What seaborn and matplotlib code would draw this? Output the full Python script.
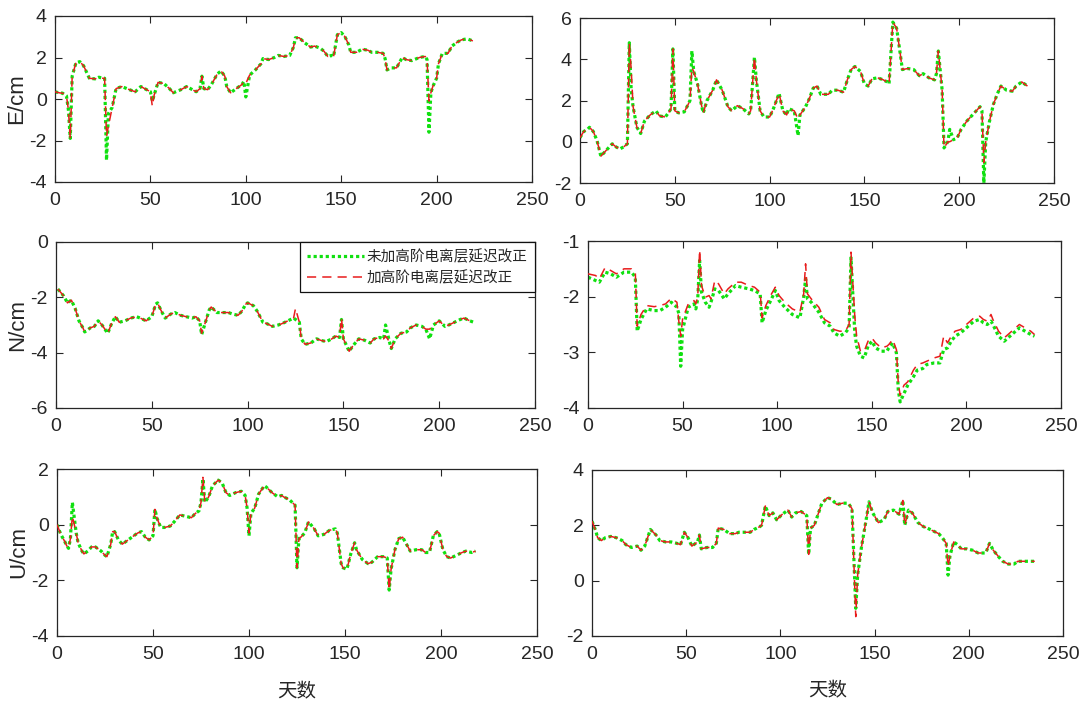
import matplotlib
matplotlib.use("Agg")
import matplotlib.pyplot as plt
import pandas as pd
import seaborn as sns

# ---------------- data ----------------
SERIES_NAMES = ["未加高阶电离层延迟改正", "加高阶电离层延迟改正"]
X_LABEL = "天数"
XTICKS = [0, 50, 100, 150, 200, 250]

# E, left column
e_left_days = [0, 2, 4, 6, 7, 8, 9, 11, 13, 15,
               18, 21, 23, 25, 26, 27, 28, 30, 32, 35,
               39, 42, 45, 48, 50, 51, 52, 54, 57, 60,
               62, 66, 69, 71, 74, 76, 77, 78, 80, 82,
               85, 87, 89, 90, 92, 95, 98, 99, 100, 102,
               105, 108, 109, 112, 115, 117, 120, 123, 125, 126,
               128, 131, 134, 136, 139, 141, 143, 145, 146, 148,
               150, 152, 154, 155, 158, 161, 164, 166, 169, 172,
               173, 174, 176, 179, 182, 184, 187, 191, 194, 195,
               196, 197, 198, 200, 201, 203, 206, 208, 211, 213,
               216, 219]
e_left_green = [0.35, 0.3, 0.28, 0.15, -0.5, -1.9, 1.1, 1.75, 1.8, 1.6,
                1.0, 0.97, 1.05, 1.0, 1.0, -2.95, -0.7, -0.4, 0.5, 0.6,
                0.45, 0.35, 0.6, 0.45, 0.35, -0.1, 0.2, 0.8, 0.75, 0.5,
                0.3, 0.45, 0.6, 0.5, 0.35, 0.5, 1.1, 0.5, 0.45, 0.7,
                1.2, 1.35, 1.1, 0.6, 0.3, 0.5, 0.7, 0.85, 0.1, 1.15,
                1.4, 1.7, 1.95, 1.9, 2.0, 2.1, 2.05, 2.1, 2.5, 2.95,
                2.95, 2.7, 2.5, 2.55, 2.45, 2.3, 2.05, 2.1, 2.05, 3.1,
                3.2, 3.0, 2.6, 2.25, 2.25, 2.4, 2.35, 2.25, 2.25, 2.2,
                1.95, 1.4, 1.5, 1.5, 2.0, 1.9, 1.85, 2.0, 2.05, 1.9,
                -1.6, 0.3, 0.6, 1.0, 1.7, 2.2, 2.2, 2.55, 2.75, 2.85,
                2.9, 2.8]
e_left_red = [0.35, 0.3, 0.28, 0.15, -0.5, -1.9, 1.1, 1.75, 1.8, 1.6,
              1.0, 0.97, 1.05, 1.0, 1.0, -1.8, -1.3, -0.4, 0.5, 0.6,
              0.45, 0.35, 0.6, 0.45, 0.35, -0.35, 0.2, 0.8, 0.75, 0.5,
              0.3, 0.45, 0.6, 0.5, 0.35, 0.5, 1.1, 0.5, 0.45, 0.7,
              1.2, 1.35, 1.1, 0.6, 0.3, 0.5, 0.7, 0.85, 0.75, 1.15,
              1.4, 1.7, 1.95, 1.9, 2.0, 2.1, 2.05, 2.1, 2.5, 2.95,
              2.95, 2.7, 2.5, 2.55, 2.45, 2.3, 2.05, 2.1, 2.05, 3.1,
              3.2, 3.0, 2.6, 2.25, 2.25, 2.4, 2.35, 2.25, 2.25, 2.2,
              1.95, 1.4, 1.5, 1.5, 2.0, 1.9, 1.85, 2.0, 2.05, 1.9,
              -0.1, 0.3, 0.6, 1.0, 1.7, 2.2, 2.2, 2.55, 2.75, 2.85,
              2.9, 2.8]
e_left_yticks = [-4, -2, 0, 2, 4]

# E, right column
e_right_days = [0, 2, 4, 5, 7, 9, 11, 14, 17, 19,
                21, 23, 25, 26, 27, 28, 30, 32, 34, 37,
                40, 42, 45, 47, 48, 49, 50, 52, 55, 57,
                58, 59, 60, 62, 64, 65, 67, 70, 72, 75,
                78, 80, 83, 86, 89, 90, 92, 93, 95, 97,
                100, 102, 105, 107, 109, 110, 113, 115, 116, 119,
                121, 123, 125, 127, 131, 133, 136, 139, 141, 143,
                145, 148, 150, 152, 154, 157, 160, 162, 163, 165,
                167, 169, 170, 173, 176, 179, 181, 184, 187, 188,
                189, 191, 192, 194, 195, 197, 199, 201, 204, 207,
                210, 211, 212, 213, 214, 216, 218, 220, 222, 225,
                228, 230, 233, 236]
e_right_green = [0.2, 0.5, 0.6, 0.7, 0.5, 0.05, -0.7, -0.4, -0.1, -0.25,
                 -0.35, -0.25, -0.1, 4.8, 2.5, 1.7, 0.7, 0.4, 1.0, 1.3,
                 1.5, 1.25, 1.2, 1.45, 1.6, 4.5, 1.5, 1.4, 1.45, 1.8,
                 2.0, 4.4, 3.4, 2.8, 1.8, 1.4, 2.0, 2.5, 3.0, 2.5,
                 1.7, 1.5, 1.75, 1.6, 1.35, 1.5, 4.1, 3.0, 1.5, 1.2,
                 1.2, 1.6, 2.35, 1.5, 1.3, 1.6, 1.5, 0.3, 1.3, 1.7,
                 2.1, 2.6, 2.7, 2.3, 2.3, 2.5, 2.5, 2.4, 3.0, 3.5,
                 3.65, 3.4, 2.8, 2.7, 3.05, 3.1, 3.0, 2.9, 2.8, 5.8,
                 5.5, 4.2, 3.5, 3.55, 3.5, 3.2, 3.3, 3.1, 3.0, 3.3,
                 4.4, 2.5, -0.3, 0.0, 0.6, 0.1, 0.2, 0.6, 1.0, 1.3,
                 1.6, 1.7, 1.5, -2.0, 0.0, 1.0, 1.8, 2.3, 2.7, 2.5,
                 2.45, 2.7, 2.9, 2.7]
e_right_red = [0.2, 0.5, 0.6, 0.7, 0.5, 0.05, -0.7, -0.4, -0.1, -0.25,
               -0.35, -0.25, -0.1, 4.8, 3.5, 1.7, 0.7, 0.4, 1.0, 1.3,
               1.5, 1.25, 1.2, 1.45, 1.6, 4.5, 1.5, 1.4, 1.45, 1.8,
               2.0, 3.6, 3.4, 2.8, 1.8, 1.4, 2.0, 2.5, 3.0, 2.5,
               1.7, 1.5, 1.75, 1.6, 1.35, 1.5, 4.1, 3.0, 1.5, 1.2,
               1.2, 1.6, 2.35, 1.5, 1.3, 1.6, 1.5, 1.1, 1.3, 1.7,
               2.1, 2.6, 2.7, 2.3, 2.3, 2.5, 2.5, 2.4, 3.0, 3.5,
               3.65, 3.4, 2.8, 2.7, 3.05, 3.1, 3.0, 2.9, 2.8, 5.8,
               5.5, 4.2, 3.5, 3.55, 3.5, 3.2, 3.3, 3.1, 3.0, 3.3,
               4.4, 2.5, -0.3, 0.0, 0.0, 0.1, 0.2, 0.6, 1.0, 1.3,
               1.6, 1.7, 1.5, -1.0, 0.0, 1.0, 1.8, 2.3, 2.7, 2.5,
               2.45, 2.7, 2.9, 2.7]
e_right_yticks = [-2, 0, 2, 4, 6]

# N, left column
n_left_days = [1, 4, 6, 8, 10, 12, 14, 15, 18, 20,
               22, 24, 27, 29, 31, 33, 36, 39, 42, 44,
               47, 50, 52, 53, 55, 57, 60, 62, 65, 68,
               71, 73, 75, 76, 78, 80, 81, 84, 87, 90,
               92, 95, 97, 99, 100, 103, 105, 108, 110, 113,
               116, 118, 121, 124, 125, 127, 128, 130, 133, 136,
               138, 141, 144, 146, 148, 149, 150, 153, 155, 158,
               161, 164, 166, 169, 171, 172, 174, 175, 177, 180,
               183, 185, 188, 191, 193, 195, 197, 200, 203, 205,
               208, 211, 213, 216, 218]
n_left_green = [-1.7, -1.95, -2.2, -2.1, -2.4, -2.85, -3.1, -3.25, -3.1, -3.05,
                -2.85, -3.0, -3.3, -2.95, -2.7, -2.9, -2.85, -2.75, -2.7, -2.75,
                -2.85, -2.7, -2.25, -2.2, -2.5, -2.75, -2.6, -2.55, -2.65, -2.7,
                -2.75, -2.7, -2.85, -3.35, -2.9, -2.45, -2.35, -2.55, -2.55, -2.55,
                -2.6, -2.65, -2.5, -2.25, -2.2, -2.3, -2.5, -2.9, -2.95, -3.05,
                -3.0, -2.95, -2.85, -2.75, -2.8, -2.9, -3.5, -3.7, -3.65, -3.5,
                -3.55, -3.6, -3.5, -3.4, -3.45, -2.8, -3.5, -3.95, -3.75, -3.5,
                -3.55, -3.65, -3.5, -3.45, -3.5, -3.0, -3.6, -3.85, -3.5, -3.3,
                -3.25, -3.1, -3.0, -3.05, -3.15, -3.5, -3.0, -2.85, -3.05, -3.0,
                -2.9, -2.8, -2.75, -2.85, -2.9]
n_left_red = [-1.7, -1.95, -2.2, -2.1, -2.4, -2.85, -3.1, -3.25, -3.1, -3.05,
              -2.85, -3.0, -3.3, -2.95, -2.7, -2.9, -2.85, -2.75, -2.7, -2.75,
              -2.85, -2.7, -2.25, -2.2, -2.5, -2.75, -2.6, -2.55, -2.65, -2.7,
              -2.75, -2.7, -2.85, -3.3, -2.9, -2.45, -2.35, -2.55, -2.55, -2.55,
              -2.6, -2.65, -2.5, -2.25, -2.2, -2.3, -2.5, -2.9, -2.95, -3.05,
              -3.0, -2.95, -2.85, -2.75, -2.4, -2.9, -3.5, -3.7, -3.65, -3.5,
              -3.55, -3.6, -3.5, -3.4, -3.45, -2.75, -3.5, -3.95, -3.75, -3.5,
              -3.55, -3.65, -3.5, -3.45, -3.5, -3.4, -3.6, -3.85, -3.5, -3.3,
              -3.25, -3.1, -3.0, -3.05, -3.15, -3.15, -3.0, -2.85, -3.05, -3.0,
              -2.9, -2.8, -2.75, -2.85, -2.9]
n_left_yticks = [-6, -4, -2, 0]

# N, right column
n_right_days = [0, 4, 6, 9, 12, 15, 19, 23, 25, 26,
                28, 31, 35, 38, 41, 44, 47, 48, 49, 50,
                53, 56, 57, 58, 59, 60, 62, 64, 65, 67,
                69, 72, 74, 78, 81, 85, 88, 91, 92, 94,
                97, 99, 101, 104, 108, 112, 114, 115, 116, 118,
                122, 125, 128, 130, 133, 136, 138, 139, 141, 142,
                144, 146, 148, 150, 152, 155, 158, 159, 161, 163,
                164, 165, 167, 169, 172, 174, 177, 179, 183, 186,
                188, 190, 192, 194, 197, 200, 204, 207, 209, 211,
                213, 214, 217, 220, 222, 226, 228, 231, 234, 236]
n_right_green = [-1.65, -1.71, -1.74, -1.56, -1.59, -1.65, -1.56, -1.56, -1.65, -2.62,
                 -2.41, -2.22, -2.25, -2.25, -2.19, -2.1, -2.19, -2.3, -3.25, -2.59,
                 -2.19, -2.13, -2.22, -2.04, -1.35, -1.92, -2.1, -2.19, -2.1, -1.86,
                 -1.89, -2.04, -1.95, -1.8, -1.83, -1.86, -1.89, -1.95, -2.47, -2.25,
                 -2.04, -1.89, -2.07, -2.19, -2.32, -2.38, -2.01, -1.68, -2.04, -2.1,
                 -2.28, -2.47, -2.53, -2.65, -2.71, -2.65, -2.56, -1.3, -2.65, -2.89,
                 -3.07, -3.1, -2.89, -2.8, -2.92, -2.98, -2.98, -2.92, -2.83, -3.01,
                 -3.68, -3.89, -3.74, -3.59, -3.44, -3.32, -3.29, -3.22, -3.19, -3.19,
                 -2.95, -2.92, -2.8, -2.71, -2.65, -2.56, -2.44, -2.41, -2.47, -2.5,
                 -2.44, -2.5, -2.71, -2.8, -2.74, -2.62, -2.56, -2.62, -2.68, -2.71]
n_right_red = [-1.59, -1.62, -1.68, -1.48, -1.53, -1.59, -1.5, -1.5, -1.56, -2.53,
               -2.32, -2.16, -2.18, -2.16, -2.13, -2.03, -2.1, -2.44, -2.71, -2.4,
               -2.13, -2.07, -2.13, -2.0, -1.16, -1.8, -2.01, -1.98, -2.04, -1.71,
               -1.77, -1.95, -1.86, -1.74, -1.74, -1.8, -1.83, -1.92, -2.38, -2.16,
               -1.95, -1.83, -1.98, -2.1, -2.22, -2.28, -1.95, -1.41, -1.95, -2.04,
               -2.19, -2.41, -2.47, -2.59, -2.62, -2.62, -2.5, -1.2, -2.35, -2.71,
               -2.98, -2.98, -2.8, -2.74, -2.83, -2.92, -2.89, -2.86, -2.77, -2.95,
               -3.56, -3.77, -3.59, -3.53, -3.32, -3.22, -3.19, -3.16, -3.1, -3.07,
               -2.71, -2.83, -2.71, -2.62, -2.59, -2.5, -2.38, -2.35, -2.41, -2.44,
               -2.32, -2.41, -2.62, -2.74, -2.68, -2.56, -2.5, -2.56, -2.62, -2.68]
n_right_yticks = [-4, -3, -2, -1]

# U, left column
u_left_days = [0, 2, 4, 5, 6, 7, 8, 10, 11, 13,
               14, 16, 18, 20, 22, 23, 25, 26, 28, 29,
               30, 32, 34, 37, 40, 42, 44, 46, 48, 50,
               51, 52, 54, 56, 59, 61, 64, 67, 70, 72,
               74, 75, 76, 77, 79, 81, 84, 86, 88, 90,
               93, 96, 98, 99, 100, 101, 103, 105, 108, 109,
               112, 115, 117, 118, 121, 124, 125, 126, 127, 129,
               131, 134, 136, 139, 142, 145, 146, 148, 149, 151,
               153, 155, 156, 159, 162, 164, 167, 170, 172, 173,
               174, 176, 178, 180, 182, 184, 187, 190, 192, 194,
               196, 198, 199, 201, 203, 205, 208, 211, 213, 216,
               218]
u_left_green = [0.0, -0.35, -0.6, -0.75, -0.85, -0.5, 0.8, -0.3, -0.65, -0.95,
                -1.05, -0.95, -0.8, -0.8, -0.9, -0.95, -1.1, -1.15, -0.7, -0.25,
                -0.25, -0.55, -0.7, -0.55, -0.4, -0.3, -0.25, -0.45, -0.55, -0.4,
                0.55, 0.25, -0.1, -0.1, -0.05, 0.1, 0.35, 0.3, 0.25, 0.4,
                0.5, 0.8, 1.65, 0.8, 1.0, 1.4, 1.6, 1.5, 1.15, 1.05,
                1.15, 1.2, 1.05, 0.6, -0.4, 0.4, 0.6, 1.1, 1.4, 1.35,
                1.15, 1.0, 1.05, 1.0, 0.9, 0.7, -1.55, -0.5, -0.45, -0.3,
                0.1, -0.15, -0.4, -0.35, -0.2, -0.15, -0.3, -1.4, -1.55, -1.6,
                -1.05, -0.65, -0.9, -1.25, -1.4, -1.35, -1.15, -1.15, -1.2, -2.35,
                -1.6, -0.9, -0.5, -0.45, -0.7, -0.95, -0.9, -0.9, -1.0, -1.0,
                -0.4, -0.25, -0.3, -0.9, -1.15, -1.2, -1.1, -1.0, -0.95, -1.0,
                -0.95]
u_left_red = [0.0, -0.35, -0.6, -0.75, -0.85, -0.5, 0.3, -0.3, -0.65, -0.95,
              -1.05, -0.95, -0.8, -0.8, -0.9, -0.95, -1.1, -1.15, -0.7, -0.25,
              -0.25, -0.55, -0.7, -0.55, -0.4, -0.3, -0.25, -0.45, -0.55, -0.4,
              0.55, 0.25, -0.1, -0.1, -0.05, 0.1, 0.35, 0.3, 0.25, 0.4,
              0.5, 0.8, 1.7, 0.8, 1.0, 1.4, 1.6, 1.5, 1.15, 1.05,
              1.15, 1.2, 1.05, 0.6, -0.3, 0.4, 0.6, 1.1, 1.4, 1.35,
              1.15, 1.0, 1.05, 1.0, 0.9, 0.7, -1.55, -0.5, -0.45, -0.3,
              0.1, -0.15, -0.4, -0.35, -0.2, -0.15, -0.3, -1.4, -1.55, -1.6,
              -1.05, -0.65, -0.9, -1.25, -1.4, -1.35, -1.15, -1.15, -1.2, -2.35,
              -1.6, -0.9, -0.5, -0.45, -0.7, -0.95, -0.9, -0.9, -1.0, -1.0,
              -0.4, -0.25, -0.3, -0.9, -1.15, -1.2, -1.1, -1.0, -0.95, -1.0,
              -0.95]
u_left_yticks = [-4, -2, 0, 2]

# U, right column
u_right_days = [0, 2, 3, 5, 7, 10, 13, 16, 18, 21,
                24, 26, 28, 31, 34, 36, 39, 42, 45, 47,
                49, 51, 53, 56, 57, 58, 61, 64, 66, 67,
                70, 73, 76, 78, 81, 84, 86, 89, 90, 92,
                94, 96, 98, 101, 104, 106, 108, 111, 114, 115,
                116, 118, 120, 122, 125, 127, 130, 133, 136, 138,
                140, 141, 143, 146, 147, 149, 152, 155, 157, 160,
                163, 165, 166, 168, 170, 173, 176, 178, 181, 184,
                186, 188, 189, 190, 192, 194, 196, 199, 202, 205,
                207, 209, 211, 213, 216, 218, 221, 224, 226, 229,
                232, 235]
u_right_green = [2.15, 1.8, 1.55, 1.45, 1.55, 1.6, 1.55, 1.45, 1.3, 1.2,
                 1.25, 1.1, 1.25, 1.85, 1.65, 1.45, 1.4, 1.4, 1.35, 1.3,
                 1.75, 1.55, 1.25, 1.4, 1.65, 1.15, 1.2, 1.2, 1.35, 1.9,
                 1.85, 1.7, 1.7, 1.75, 1.75, 1.75, 1.85, 1.95, 2.0, 2.7,
                 2.35, 2.45, 2.2, 2.4, 2.55, 2.3, 2.45, 2.5, 2.35, 0.95,
                 1.9, 2.0, 2.4, 2.8, 3.0, 2.95, 2.75, 2.8, 2.8, 2.6,
                 -1.0, 0.2, 1.2, 2.4, 2.85, 2.45, 2.1, 2.2, 2.5, 2.55,
                 2.4, 2.9, 2.0, 2.55, 2.45, 2.1, 1.95, 1.9, 1.8, 1.7,
                 1.55, 1.35, 0.2, 0.9, 1.4, 1.3, 1.15, 1.15, 1.1, 1.0,
                 1.0, 1.0, 1.35, 1.1, 0.85, 0.7, 0.6, 0.6, 0.7, 0.7,
                 0.7, 0.7]
u_right_red = [2.15, 1.8, 1.55, 1.45, 1.55, 1.6, 1.55, 1.45, 1.3, 1.2,
               1.25, 1.1, 1.25, 1.85, 1.65, 1.45, 1.4, 1.4, 1.35, 1.3,
               1.75, 1.55, 1.25, 1.4, 1.65, 1.15, 1.2, 1.2, 1.35, 1.9,
               1.85, 1.7, 1.7, 1.75, 1.75, 1.75, 1.85, 1.95, 2.0, 2.7,
               2.35, 2.45, 2.2, 2.4, 2.55, 2.3, 2.45, 2.5, 2.35, 0.95,
               1.9, 2.0, 2.4, 2.8, 3.0, 2.95, 2.75, 2.8, 2.8, 2.6,
               -1.3, 0.2, 1.2, 2.4, 2.85, 2.45, 2.1, 2.2, 2.5, 2.55,
               2.4, 2.9, 2.0, 2.55, 2.45, 2.1, 1.95, 1.9, 1.8, 1.7,
               1.55, 1.35, 0.5, 0.9, 1.4, 1.3, 1.15, 1.15, 1.1, 1.0,
               1.0, 1.0, 1.35, 1.1, 0.85, 0.7, 0.6, 0.6, 0.7, 0.7,
               0.7, 0.7]
u_right_yticks = [-2, 0, 2, 4]

Y_LABELS = ["E/cm", "N/cm", "U/cm"]

# ---------------- styling ----------------
sns.set_theme(style="white")
plt.rcParams['font.family'] = ['Liberation Sans', 'DejaVu Sans']
CJK = ['Noto Sans CJK SC', 'DejaVu Sans']
INK = '#262626'
GREEN = '#10e010'
RED = '#e81c1c'

W, H = 1081, 706
fig = plt.figure(figsize=(W / 100, H / 100), dpi=100)


def px_axes(left, top, right, bottom):
    return fig.add_axes([left / W, 1 - bottom / H, (right - left) / W, (bottom - top) / H])


panels = [
    ((55, 16, 532, 182), e_left_days, e_left_green, e_left_red, e_left_yticks, Y_LABELS[0]),
    ((580, 18, 1054, 183), e_right_days, e_right_green, e_right_red, e_right_yticks, None),
    ((56, 242, 535, 408), n_left_days, n_left_green, n_left_red, n_left_yticks, Y_LABELS[1]),
    ((588, 241, 1061, 408), n_right_days, n_right_green, n_right_red, n_right_yticks, None),
    ((57, 469, 537, 636), u_left_days, u_left_green, u_left_red, u_left_yticks, Y_LABELS[2]),
    ((592, 470, 1063, 636), u_right_days, u_right_green, u_right_red, u_right_yticks, None),
]

axes = []
for i, (pos, days, g, r, yt, ylab) in enumerate(panels):
    ax = px_axes(*pos)
    axes.append(ax)
    dg = pd.DataFrame({"day": days, "val": g})
    dr = pd.DataFrame({"day": days, "val": r})
    sns.lineplot(data=dg, x="day", y="val", ax=ax, color=GREEN, linewidth=2.3,
                 linestyle=(0, (1, 0.9)), estimator=None, sort=False,
                 label=SERIES_NAMES[0], legend=False, zorder=2)
    sns.lineplot(data=dr, x="day", y="val", ax=ax, color=RED, linewidth=1.1,
                 linestyle=(0, (6, 4)), estimator=None, sort=False,
                 label=SERIES_NAMES[1], legend=False, zorder=3)
    ax.set_xlim(XTICKS[0], XTICKS[-1])
    ax.set_ylim(yt[0], yt[-1])
    ax.set_xticks(XTICKS)
    ax.set_xticklabels([str(t) for t in XTICKS])
    ax.set_yticks(yt)
    ax.set_yticklabels([str(t) for t in yt])
    ax.tick_params(direction='in', length=5, width=0.8, colors=INK,
                   top=True, right=True, bottom=True, left=True,
                   labelsize=14, labelcolor=INK)
    ax.tick_params(axis='x', pad=7)
    ax.tick_params(axis='y', pad=6)
    for sp in ax.spines.values():
        sp.set_visible(True)
        sp.set_color(INK)
        sp.set_linewidth(0.9)
    ax.set_xlabel("")
    ax.set_ylabel("")
    ax.grid(False)
    if ylab:
        ax.set_ylabel(ylab, fontsize=16, color=INK, family=['Liberation Sans', 'DejaVu Sans'])
        ax.yaxis.set_label_coords(-0.058, 0.5)
    if i >= 4:
        ax.set_xlabel(X_LABEL, fontsize=14, color=INK, family=CJK)
        ax.xaxis.set_label_coords(0.5, -0.27)

# legend in the middle-left panel
leg_ax = axes[2]
handles, labels = leg_ax.get_legend_handles_labels()
leg = leg_ax.legend(handles, labels, loc='upper right',
                    bbox_to_anchor=(535 / W, 1 - 242 / H), bbox_transform=fig.transFigure,
                    prop={'family': CJK, 'size': 10.5}, frameon=True, fancybox=False,
                    edgecolor='#111111', framealpha=1, borderpad=0.5,
                    handlelength=3.9, handletextpad=0.2, labelspacing=0.45,
                    borderaxespad=0)
leg.get_frame().set_linewidth(0.9)
for t in leg.get_texts():
    t.set_color(INK)

fig.savefig("out.png", dpi=100)
